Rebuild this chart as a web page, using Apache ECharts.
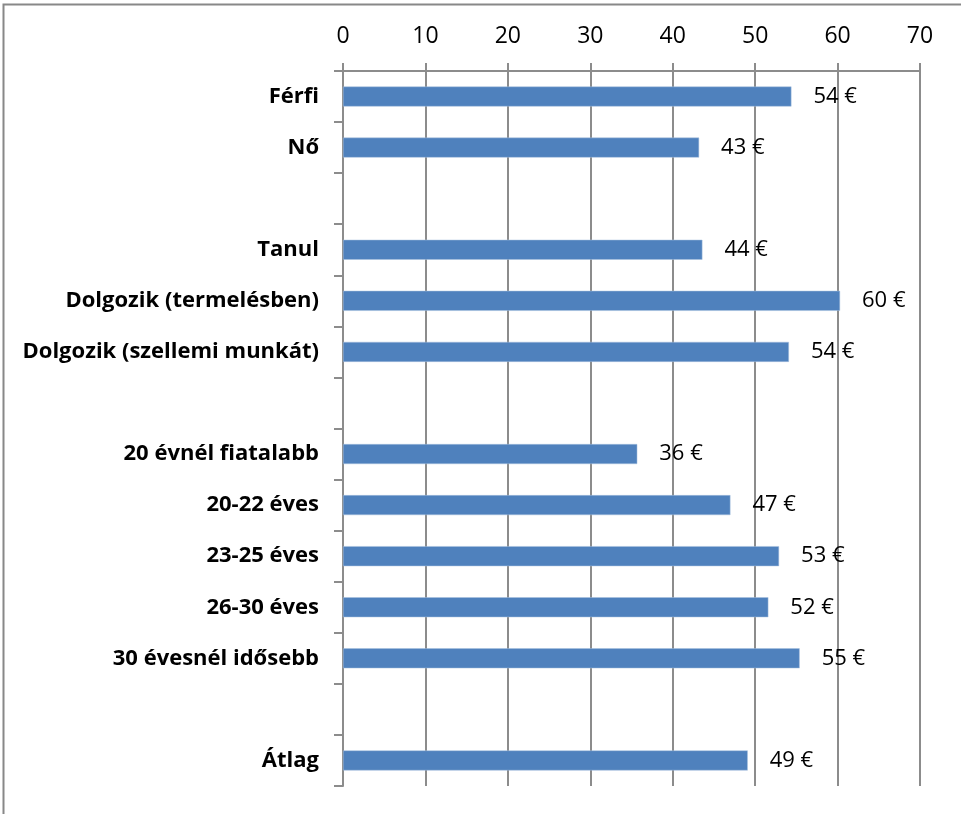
<!DOCTYPE html>
<html>
<head>
<meta charset="utf-8">
<script src="https://cdn.jsdelivr.net/npm/echarts@6/dist/echarts.min.js"></script>
<style>
  html, body { margin: 0; padding: 0; background: #fff; }
  #chart { width: 961px; height: 814px; }
</style>
</head>
<body>
<div id="chart"></div>
<script>
// categories top to bottom, empty strings are the gaps between groups
const categories = [
  'Férfi', 'Nő', '',
  'Tanul', 'Dolgozik (termelésben)', 'Dolgozik (szellemi munkát)', '',
  '20 évnél fiatalabb', '20-22 éves', '23-25 éves', '26-30 éves', '30 évesnél idősebb', '',
  'Átlag'
]
const values = [
  54.4, 43.2, null,
  43.6, 60.3, 54.1, null,
  35.7, 47.0, 52.9, 51.6, 55.4, null,
  49.1
]
const xTicks = [0, 10, 20, 30, 40, 50, 60, 70]

const font = 'Open Sans'
const gray = '#8c8c8c'

const chart = echarts.init(document.getElementById('chart'))

const option = {
  animation: false,
  backgroundColor: '#fff',
  graphic: [
    {
      type: 'rect',
      shape: { x: 3.5, y: 4.5, width: 1200, height: 1200 },
      style: { fill: 'none', stroke: '#888', lineWidth: 2 },
      silent: true
    }
  ],
  grid: {
    left: 343,
    right: 41,
    top: 71,
    bottom: 28
  },
  xAxis: {
    type: 'value',
    position: 'top',
    min: xTicks[0],
    max: xTicks[xTicks.length - 1],
    interval: 10,
    axisLine: { show: true, lineStyle: { color: gray, width: 2 } },
    axisTick: { show: true, length: 8, lineStyle: { color: gray, width: 2 } },
    splitLine: { show: true, lineStyle: { color: gray, width: 2 } },
    axisLabel: {
      margin: 23,
      fontFamily: font,
      fontSize: 23,
      color: '#000'
    }
  },
  yAxis: {
    type: 'category',
    inverse: true,
    data: categories,
    axisLine: { show: true, lineStyle: { color: gray, width: 2 } },
    axisTick: { show: true, length: 9, lineStyle: { color: gray, width: 2 } },
    axisLabel: {
      margin: 24,
      fontFamily: font,
      fontSize: 22,
      fontWeight: 'bold',
      color: '#000'
    }
  },
  series: [
    {
      type: 'bar',
      data: values,
      barWidth: 20,
      itemStyle: { color: '#4f81bd', borderColor: '#a9c0df', borderWidth: 0.5 },
      label: {
        show: true,
        position: 'right',
        distance: 22,
        fontFamily: font,
        fontSize: 22,
        color: '#000',
        formatter: p => Math.round(p.value) + ' €'
      }
    }
  ]
}

chart.setOption(option)
</script>
</body>
</html>
